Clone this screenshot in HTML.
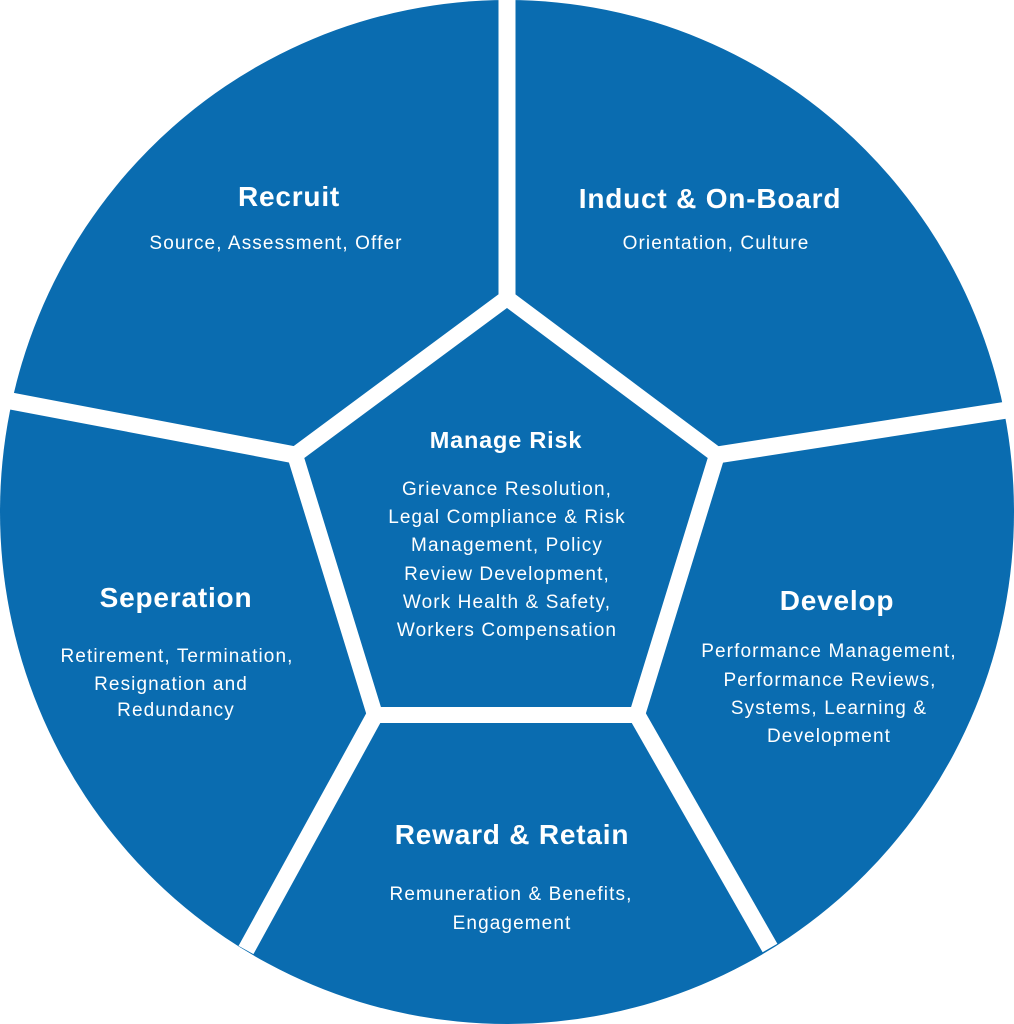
<!DOCTYPE html>
<html><head><meta charset="utf-8"><style>
html,body{margin:0;padding:0;background:#fff;}
svg{display:block;}
text{font-family:"Liberation Sans",sans-serif;fill:#fff;text-anchor:middle;}
.t{font-size:28px;font-weight:bold;letter-spacing:0.8px;}
.s{font-size:19px;letter-spacing:1.1px;}
</style></head><body>
<svg width="1014" height="1024" viewBox="0 0 1014 1024">
<ellipse cx="507" cy="512" rx="507" ry="512" fill="#0a6cb0"/>
<g stroke="#fff" stroke-width="17" stroke-linecap="butt">
<line x1="507" y1="298" x2="507" y2="-5"/>
<line x1="717" y1="455" x2="1020" y2="408"/>
<line x1="637" y1="715" x2="770" y2="948"/>
<line x1="375" y1="715" x2="246" y2="950"/>
<line x1="295" y1="455" x2="-5" y2="398"/>
</g>
<polygon points="507,298 717,455 637,715 375,715 295,455" fill="#0a6cb0" stroke="#fff" stroke-width="16" stroke-linejoin="miter"/>
<text class="t" x="289" y="206">Recruit</text>
<text class="s" x="276" y="249">Source, Assessment, Offer</text>
<text class="t" x="710" y="208">Induct &amp; On-Board</text>
<text class="s" x="716" y="249">Orientation, Culture</text>
<text class="t" x="506" y="448" style="font-size:23.5px">Manage Risk</text>
<text class="s" x="507" y="495">Grievance Resolution,</text>
<text class="s" x="507" y="523">Legal Compliance &amp; Risk</text>
<text class="s" x="507" y="551">Management, Policy</text>
<text class="s" x="507" y="580">Review Development,</text>
<text class="s" x="507" y="608">Work Health &amp; Safety,</text>
<text class="s" x="507" y="636">Workers Compensation</text>
<text class="t" x="176" y="607">Seperation</text>
<text class="s" x="177" y="662">Retirement, Termination,</text>
<text class="s" x="171" y="690">Resignation and</text>
<text class="s" x="176" y="716">Redundancy</text>
<text class="t" x="837" y="610">Develop</text>
<text class="s" x="829" y="657">Performance Management,</text>
<text class="s" x="830" y="686">Performance Reviews,</text>
<text class="s" x="829" y="714">Systems, Learning &amp;</text>
<text class="s" x="829" y="742">Development</text>
<text class="t" x="512" y="844">Reward &amp; Retain</text>
<text class="s" x="511" y="900">Remuneration &amp; Benefits,</text>
<text class="s" x="512" y="929">Engagement</text>
</svg>
</body></html>
